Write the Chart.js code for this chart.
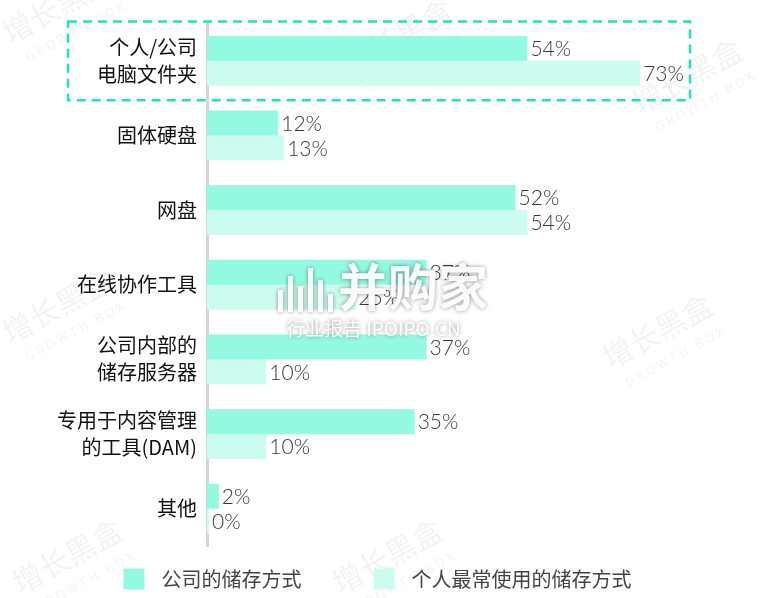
<!DOCTYPE html>
<html>
<head>
<meta charset="utf-8">
<script src="https://cdn.jsdelivr.net/npm/chart.js@4"></script>
<style>
  html, body { margin: 0; padding: 0; background: #fff; }
  #wrap { width: 763px; height: 598px; }
</style>
</head>
<body>
<div id="wrap"><canvas id="storageChart" width="763" height="598"></canvas></div>
<script>
// Data
const categories = [
    ['个人/公司', '电脑文件夹'],
    '固体硬盘',
    '网盘',
    '在线协作工具',
    ['公司内部的', '储存服务器'],
    ['专用于内容管理', '的工具(DAM)'],
    '其他'
];
const companyValues = [54, 12, 52, 37, 37, 35, 2];
const personalValues = [73, 13, 54, 25, 10, 10, 0];
const seriesNames = ['公司的储存方式', '个人最常使用的储存方式'];

const CJK = '"Noto Sans CJK SC", "Noto Sans", sans-serif';

// Value labels at the end of each bar
const valueLabels = {
    id: 'valueLabels',
    afterDatasetsDraw(chart) {
        const ctx = chart.ctx;
        ctx.save();
        ctx.font = '300 21px Lato, "Noto Sans", sans-serif';
        ctx.fillStyle = '#3a3a3a';
        ctx.textAlign = 'left';
        ctx.textBaseline = 'middle';
        chart.data.datasets.forEach((ds, i) => {
            chart.getDatasetMeta(i).data.forEach((bar, j) => {
                ctx.fillText(ds.data[j] + '%', bar.x + 3, bar.y + 1);
            });
        });
        ctx.restore();
    }
};

// Dashed highlight around the first category
const highlightBox = {
    id: 'highlightBox',
    afterDraw(chart) {
        const y = chart.scales.y;
        const ctx = chart.ctx;
        const half = (y.getPixelForValue(1) - y.getPixelForValue(0)) / 2;
        const c = y.getPixelForValue(0);
        ctx.save();
        ctx.strokeStyle = '#19e8bc';
        ctx.lineWidth = 2.5;
        ctx.setLineDash([9, 6]);
        ctx.strokeRect(68, c - half - 2, 622, half * 2 + 4);
        ctx.restore();
    }
};

// Legend drawn at the bottom
const bottomLegend = {
    id: 'bottomLegend',
    afterDraw(chart) {
        const ctx = chart.ctx;
        ctx.save();
        ctx.font = '20px ' + CJK;
        ctx.textBaseline = 'middle';
        const box = 21, gap = 17, between = 72;
        const items = chart.data.datasets.map(ds => ({ text: ds.label, color: ds.backgroundColor }));
        let total = 0;
        items.forEach((it, i) => {
            it.w = ctx.measureText(it.text).width;
            total += box + gap + it.w + (i ? between : 0);
        });
        let x = (chart.width - total) / 2 - 4;
        const cy = 579;
        items.forEach((it, i) => {
            if (i) x += between;
            ctx.fillStyle = it.color;
            ctx.fillRect(x, cy - box / 2, box, box);
            x += box + gap;
            ctx.fillStyle = '#444';
            ctx.fillText(it.text, x, cy);
            x += it.w;
        });
        ctx.restore();
    }
};

// Faint watermarks behind the chart
const watermarks = {
    id: 'watermarks',
    beforeDraw(chart) {
        const ctx = chart.ctx;
        ctx.save();
        ctx.fillStyle = 'rgba(0,0,0,0.05)';
        [[10, 45], [350, 75], [640, 115], [10, 345], [610, 370], [340, 595], [20, 595]].forEach(p => {
            ctx.save();
            ctx.translate(p[0], p[1]);
            ctx.rotate(-0.5);
            ctx.font = '30px ' + CJK;
            ctx.fillText('增长黑盒', 0, 0);
            ctx.font = '13px ' + CJK;
            ctx.fillText('G R O W T H   B O X', 8, 24);
            ctx.restore();
        });
        ctx.restore();
    },
    afterDraw(chart) {
        const ctx = chart.ctx;
        ctx.save();
        ctx.shadowColor = 'rgba(0,0,0,0.45)';
        ctx.shadowBlur = 4;
        ctx.fillStyle = 'rgba(255,255,255,0.95)';
        // icon bars
        [[278, 22], [288, 36], [298, 26], [308, 44], [318, 32], [328, 18]].forEach(b => {
            ctx.fillRect(b[0], 312 - b[1], 5, b[1]);
        });
        ctx.font = 'bold 50px ' + CJK;
        ctx.textBaseline = 'middle';
        ctx.fillText('并购家', 338, 287);
        ctx.font = '19px ' + CJK;
        ctx.fillText('行业报告 IPOIPO.CN', 286, 329);
        ctx.restore();
    }
};

const ctx = document.getElementById('storageChart').getContext('2d');
new Chart(ctx, {
    type: 'bar',
    data: {
        labels: categories,
        datasets: [{
            label: seriesNames[0],
            data: companyValues,
            backgroundColor: '#93fae2',
            minBarLength: 2
        }, {
            label: seriesNames[1],
            data: personalValues,
            backgroundColor: '#ccfbef',
            minBarLength: 2
        }]
    },
    options: {
        indexAxis: 'y',
        responsive: false,
        animation: false,
        categoryPercentage: 0.667,
        barPercentage: 1,
        layout: {
            padding: { top: 20, bottom: 52, left: 0, right: 22 }
        },
        plugins: {
            legend: { display: false },
            tooltip: { enabled: false }
        },
        scales: {
            x: {
                display: false,
                min: 0,
                max: 90
            },
            y: {
                z: 1,
                grid: { display: false, drawTicks: false },
                border: { color: '#d6d6d6', width: 3 },
                ticks: {
                    color: '#111',
                    padding: 10,
                    font: { family: CJK, size: 20, lineHeight: 1.35 }
                },
                afterFit(scale) { scale.width = 207; }
            }
        }
    },
    plugins: [watermarks, valueLabels, highlightBox, bottomLegend]
});
</script>
</body>
</html>
